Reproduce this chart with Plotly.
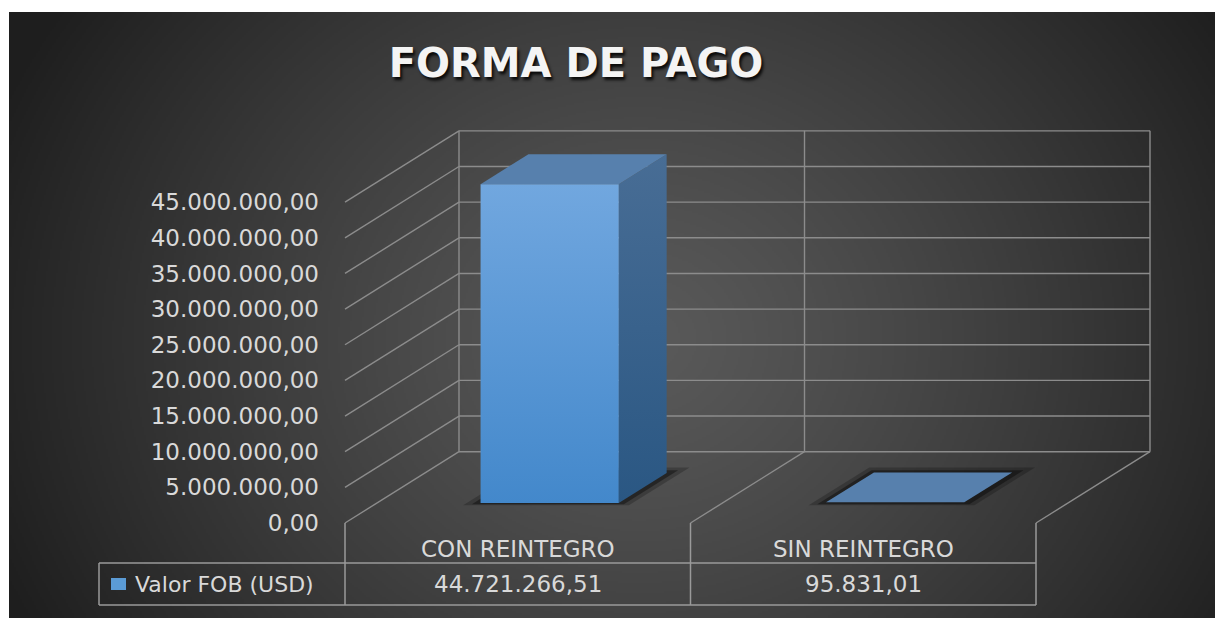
import base64
import struct
import zlib

import numpy as np
import plotly.graph_objects as go

# ---------------- data ----------------
categories = ["CON REINTEGRO", "SIN REINTEGRO"]
values = [44721266.51, 95831.01]
series_name = "Valor FOB (USD)"
title_text = "FORMA DE PAGO"
y_ticks = [0, 5000000, 10000000, 15000000, 20000000, 25000000,
           30000000, 35000000, 40000000, 45000000]


def fmt_es(v):
    s = f"{v:,.2f}"
    return s.replace(",", "#").replace(".", ",").replace("#", ".")


# ---------------- layout geometry (pixels) ----------------
W, H = 1215, 618
FRONT_LEFT_PX = 345.0     # front-left edge of the 3D box
CAT_PX = 345.5            # width of one category on the front plane
ZERO_PX = 523.0           # value 0 on the front plane
PX_PER_USD = 7.13e-6      # vertical scale
DEPTH_DX_PX, DEPTH_DY_PX = 114.0, 71.3

DEPTH_DX = DEPTH_DX_PX / CAT_PX
DEPTH_DY = DEPTH_DY_PX / PX_PER_USD
BAR_HALF = 0.2
D0, D1 = 0.28, 0.70


def X(px):
    return -0.5 + (px - FRONT_LEFT_PX) / CAT_PX


def Y(py):
    return (ZERO_PX - py) / PX_PER_USD


def P(x, v, d):
    return x + d * DEPTH_DX, v + d * DEPTH_DY


def poly(points):
    xs = [p[0] for p in points] + [points[0][0]]
    ys = [p[1] for p in points] + [points[0][1]]
    return xs, ys


def segs(pairs):
    xs, ys = [], []
    for a, b in pairs:
        xs += [a[0], b[0], None]
        ys += [a[1], b[1], None]
    return xs, ys


# ---------------- background gradient image ----------------
def png_bytes(arr):
    h, w, _ = arr.shape
    raw = b"".join(b"\x00" + arr[r].tobytes() for r in range(h))

    def chunk(t, data):
        return (struct.pack(">I", len(data)) + t + data
                + struct.pack(">I", zlib.crc32(t + data) & 0xFFFFFFFF))

    return (b"\x89PNG\r\n\x1a\n"
            + chunk(b"IHDR", struct.pack(">IIBBBBB", w, h, 8, 2, 0, 0, 0))
            + chunk(b"IDAT", zlib.compress(raw, 9))
            + chunk(b"IEND", b""))


BG_X0, BG_Y0 = 9, 12
bw, bh = (W - BG_X0) // 2, (H - BG_Y0) // 2
gx = np.linspace(BG_X0, W, bw)[None, :]
gy = np.linspace(BG_Y0, H, bh)[:, None]
t = np.sqrt(((gx - 640) / 640.0) ** 2 + ((gy - 340) / 560.0) ** 2)
t = np.clip(t, 0, 1.25) ** 1.2
c_in, c_out = 90.0, 36.0
g = np.clip(c_in - (c_in - c_out) * t, 30, 255)
img = np.stack([g, g, g], axis=-1).astype(np.uint8)
bg_src = "data:image/png;base64," + base64.b64encode(png_bytes(img)).decode()

# ---------------- figure ----------------
fig = go.Figure()

GRID = "#8c8c8c"
# back wall
pairs = [(P(-0.5, v, 1), P(1.5, v, 1)) for v in y_ticks]
pairs += [(P(x, 0, 1), P(x, y_ticks[-1], 1)) for x in (-0.5, 0.5, 1.5)]
# side wall
pairs += [(P(-0.5, v, 0), P(-0.5, v, 1)) for v in y_ticks]
# floor
pairs += [(P(x, 0, 0), P(x, 0, 1)) for x in (0.5, 1.5)]
xs, ys = segs(pairs)
fig.add_trace(go.Scatter(x=xs, y=ys, mode="lines",
                         line=dict(color=GRID, width=1.4),
                         hoverinfo="skip", showlegend=False))

# data table lines
TABLE_TOP, TABLE_BOT, TABLE_LEFT = 563, 605, 99
tpairs = [((X(TABLE_LEFT), Y(TABLE_TOP)), (1.5, Y(TABLE_TOP))),
          ((X(TABLE_LEFT), Y(TABLE_BOT)), (1.5, Y(TABLE_BOT))),
          ((X(TABLE_LEFT), Y(TABLE_TOP)), (X(TABLE_LEFT), Y(TABLE_BOT)))]
tpairs += [((x, 0), (x, Y(TABLE_BOT))) for x in (-0.5, 0.5, 1.5)]
xs, ys = segs(tpairs)
fig.add_trace(go.Scatter(x=xs, y=ys, mode="lines",
                         line=dict(color="#9a9a9a", width=1.5),
                         hoverinfo="skip", showlegend=False))

# bars
for i, v in enumerate(values):
    xl, xr = i - BAR_HALF, i + BAR_HALF
    # soft shadow on the floor
    for m, dd, a in ((0.04, 0.08, 0.22), (0.02, 0.04, 0.38)):
        sx, sy = poly([P(xl - m, 0, D0 - dd * 0.4), P(xr + m, 0, D0 - dd * 0.4),
                       P(xr + m, 0, D1 + dd), P(xl - m, 0, D1 + dd)])
        fig.add_trace(go.Scatter(x=sx, y=sy, mode="lines", fill="toself",
                                 fillcolor=f"rgba(0,0,0,{a})",
                                 line=dict(width=0), hoverinfo="skip",
                                 showlegend=False))
    # side face
    sx, sy = poly([P(xr, 0, D0), P(xr, 0, D1), P(xr, v, D1), P(xr, v, D0)])
    fig.add_trace(go.Scatter(
        x=sx, y=sy, mode="lines", fill="toself", line=dict(width=0),
        fillgradient=dict(type="vertical",
                          colorscale=[[0, "#2a5783"], [1, "#486d95"]]),
        hoverinfo="skip", showlegend=False))
    # top face
    sx, sy = poly([P(xl, v, D0), P(xr, v, D0), P(xr, v, D1), P(xl, v, D1)])
    fig.add_trace(go.Scatter(x=sx, y=sy, mode="lines", fill="toself",
                             fillcolor="#5780ad", line=dict(width=0),
                             hoverinfo="skip", showlegend=False))
    # front face
    sx, sy = poly([P(xl, 0, D0), P(xr, 0, D0), P(xr, v, D0), P(xl, v, D0)])
    fig.add_trace(go.Scatter(
        x=sx, y=sy, mode="lines", fill="toself", line=dict(width=0),
        fillgradient=dict(type="vertical",
                          colorscale=[[0, "#4388cb"], [1, "#71a7df"]]),
        name=series_name, hovertext=f"{categories[i]}: {fmt_es(v)}",
        hoverinfo="text", showlegend=False))

# table texts
TXT = "#d9d9d9"
FONT = "DejaVu Sans"
FS = 23
for i, (c, v) in enumerate(zip(categories, values)):
    fig.add_annotation(x=i, y=Y(549), text=c, showarrow=False,
                       font=dict(family=FONT, size=FS, color=TXT),
                       xanchor="center", yanchor="middle")
    fig.add_annotation(x=i, y=Y(584), text=fmt_es(v), showarrow=False,
                       font=dict(family=FONT, size=FS, color=TXT),
                       xanchor="center", yanchor="middle")
fig.add_annotation(x=X(133), y=Y(584), text=series_name, showarrow=False,
                   font=dict(family=FONT, size=FS - 1, color=TXT),
                   xanchor="left", yanchor="middle")
fig.add_shape(type="rect", x0=X(111), x1=X(126), y0=Y(590), y1=Y(578),
              xref="x", yref="y", fillcolor="#5b9bd5", line=dict(width=0))

fig.update_layout(
    width=W, height=H,
    margin=dict(l=0, r=0, t=0, b=0),
    paper_bgcolor="white",
    plot_bgcolor="rgba(0,0,0,0)",
    showlegend=False,
    title=dict(text=title_text, x=576 / W, y=1 - 63 / H,
               xanchor="center", yanchor="middle",
               font=dict(family=FONT, size=40, color="#f4f4f4", weight=700,
                         shadow="2px 3px 3px rgba(0,0,0,0.85)")),
    xaxis=dict(range=[X(0), X(W)], domain=[0, 1], visible=False,
               fixedrange=True),
    yaxis=dict(range=[Y(H), Y(0)], anchor="free",
               position=FRONT_LEFT_PX / W, side="left",
               tickmode="array", tickvals=y_ticks,
               ticktext=[fmt_es(v) for v in y_ticks],
               showgrid=False, zeroline=False, showline=False, ticks="",
               ticklabelstandoff=26, fixedrange=True,
               tickfont=dict(family=FONT, size=FS, color=TXT)),
    images=[dict(source=bg_src, xref="paper", yref="paper",
                 x=BG_X0 / W, y=1 - BG_Y0 / H,
                 sizex=(W - BG_X0) / W, sizey=(H - BG_Y0) / H,
                 xanchor="left", yanchor="top", sizing="stretch",
                 layer="below")],
)

fig.write_html("out.html", config={"displayModeBar": False},
               post_script="document.body.style.margin='0';")
